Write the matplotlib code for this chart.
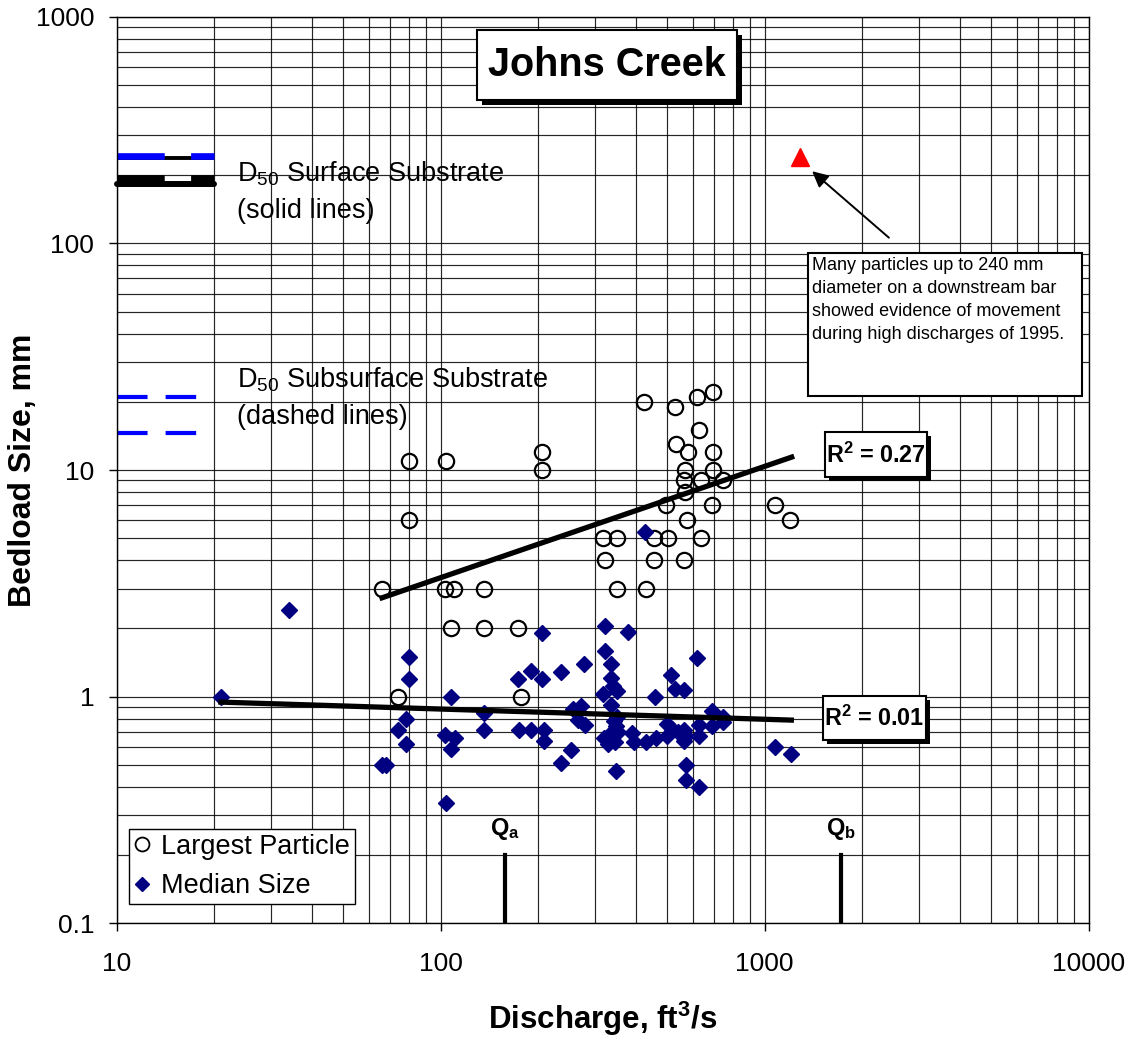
import matplotlib
matplotlib.use("Agg")
import matplotlib.pyplot as plt
from matplotlib.patches import Rectangle
from matplotlib.lines import Line2D

plt.rcParams['font.family'] = ['Liberation Sans', 'DejaVu Sans']
plt.rcParams['mathtext.fontset'] = 'custom'
plt.rcParams['mathtext.rm'] = 'Liberation Sans'
plt.rcParams['mathtext.it'] = 'Liberation Sans:italic'
plt.rcParams['mathtext.bf'] = 'Liberation Sans:bold'
plt.rcParams['lines.scale_dashes'] = False

# largest particle (open circles)
large_q = [66, 74, 80, 80, 104, 103, 110, 136, 108, 136, 174, 177, 205, 205,
           317, 350, 322, 350, 430, 426, 457, 505, 457, 497, 530, 533, 582, 568,
           563, 568, 578, 563, 618, 692, 627, 638, 695, 695, 746, 690, 638, 1078, 1199]
large_d = [3, 1, 11, 6, 11, 3, 3, 3, 2, 2, 2, 1, 12, 10,
           5, 5, 4, 3, 3, 20, 5, 5, 4, 7, 19, 13, 12, 10,
           9, 8, 6, 4, 21, 22, 15, 9, 12, 10, 9, 7, 5, 7, 6]

# median size (diamonds)
med_q = [21, 34, 80, 80, 78, 74, 78, 66, 68,
         108, 103, 111, 108, 104, 136, 136,
         174, 175, 190, 190, 205, 205, 209, 209,
         235, 235, 253, 277, 257, 271, 265, 279,
         322, 322, 335, 335, 341, 317, 351, 335, 351, 349,
         320, 335, 345, 335, 349, 379, 389, 395, 343, 352, 330,
         430, 461, 459, 428,
         513, 528, 565, 500, 520, 542, 565, 573, 565, 500,
         573, 573, 627, 618, 630, 630, 690, 690, 742, 742,
         1078, 1210]
med_d = [1.0, 2.4, 1.5, 1.2, 0.8, 0.71, 0.62, 0.5, 0.5,
         1.0, 0.68, 0.66, 0.59, 0.34, 0.85, 0.71,
         1.2, 0.71, 0.71, 1.3, 1.9, 1.2, 0.71, 0.64,
         1.28, 0.51, 0.58, 1.39, 0.88, 0.91, 0.79, 0.75,
         2.05, 1.59, 1.4, 1.21, 1.11, 1.03, 1.06, 0.92, 0.81, 0.74,
         0.66, 0.69, 0.63, 0.65, 0.47, 1.93, 0.69, 0.63, 0.78, 0.70, 0.62,
         0.63, 0.66, 1.0, 5.3,
         1.25, 1.08, 1.07, 0.76, 0.72, 0.70, 0.71, 0.67, 0.64, 0.67,
         0.50, 0.43, 0.40, 1.48, 0.75, 0.67, 0.86, 0.74, 0.81, 0.77,
         0.60, 0.56]

# power trend lines
large_fit_q = [66, 1213]
large_fit_d = [2.73, 11.4]
med_fit_q = [21, 1210]
med_fit_d = [0.946, 0.788]

# D50 reference lines (short segments at left)
d50_q = [10, 20]
surf_solid_thin = 238
surf_solid_thick = 183
surf_dashed = 195
surf_blue = 242
subsurf_blue = [21.1, 14.5]

# bar particle observation
bar_q = [1284]
bar_d = [240]

# Qa / Qb discharges
qa = 158
qb = 1720
q_mark_d = [0.1, 0.2]

x_ticks = [10, 100, 1000, 10000]
x_labels = ['10', '100', '1000', '10000']
y_ticks = [0.1, 1, 10, 100, 1000]
y_labels = ['0.1', '1', '10', '100', '1000']

W, H = 1132, 1037
fig = plt.figure(figsize=(W / 100, H / 100), dpi=100)
ax = fig.add_axes([116.5 / W, 1 - 923.3 / H, 972 / W, 906.6 / H])
ax.set_xscale('log')
ax.set_yscale('log')
ax.set_xlim(10, 10000)
ax.set_ylim(0.1, 1000)

ax.grid(True, which='both', color='black', lw=0.85, alpha=0.85)
ax.set_axisbelow(True)
for s in ax.spines.values():
    s.set_color('black')
    s.set_linewidth(1)

ax.set_xticks(x_ticks)
ax.set_xticklabels(x_labels)
ax.set_yticks(y_ticks)
ax.set_yticklabels(y_labels)
ax.tick_params(which='major', direction='out', length=6, width=1, labelsize=19)
ax.tick_params(axis='x', pad=15)
ax.tick_params(axis='y', pad=10)
ax.tick_params(which='minor', length=0)

# D50 lines
ax.plot(d50_q, [surf_solid_thin] * 2, color='black', lw=2.8, solid_capstyle='butt', clip_on=False)
ax.plot(d50_q, [surf_blue] * 2, color='#0000FF', lw=4.8, dashes=(34, 19), clip_on=False)
ax.plot(d50_q, [surf_dashed] * 2, color='black', lw=4.8, dashes=(34, 19), clip_on=False)
ax.plot(d50_q, [surf_solid_thick] * 2, color='black', lw=4.3, solid_capstyle='round', clip_on=False)
for v in subsurf_blue:
    ax.plot(d50_q, [v, v], color='#0000FF', lw=3, dashes=(22, 13), clip_on=False)

ax.text(23.5, 187, 'D$_{\\mathrm{50}}$ Surface Substrate', fontsize=19.5, va='baseline')
ax.text(23.5, 130, '(solid lines)', fontsize=19.5, va='baseline')
ax.text(23.5, 23.2, 'D$_{\\mathrm{50}}$ Subsurface Substrate', fontsize=19.5, va='baseline')
ax.text(23.5, 15.9, '(dashed lines)', fontsize=19.5, va='baseline')

# data
ax.plot(large_q, large_d, 'o', ls='none', mfc='none', mec='black', ms=11, mew=1.6, zorder=3)
ax.plot(med_q, med_d, 'D', ls='none', color='#000080', ms=8.5, zorder=4)
ax.plot(large_fit_q, large_fit_d, color='black', lw=3.8, zorder=5)
ax.plot(med_fit_q, med_fit_d, color='black', lw=3.8, zorder=5)
ax.plot(bar_q, bar_d, '^', ls='none', color='#FF0000', ms=13, zorder=5)

# Qa, Qb
ax.plot([qa, qa], q_mark_d, color='black', lw=3)
ax.plot([qb, qb], q_mark_d, color='black', lw=3)
ax.text(qa, 0.246, 'Q$_{\\mathbf{a}}$', fontsize=17, fontweight='bold', ha='center', va='baseline')
ax.text(qb, 0.246, 'Q$_{\\mathbf{b}}$', fontsize=17, fontweight='bold', ha='center', va='baseline')

ax.set_xlabel('Discharge, ft$^{\\mathbf{3}}$/s', fontsize=22.5, fontweight='bold', va='center')
ax.xaxis.set_label_coords(0.5, -0.1056)
ax.set_ylabel('Bedload Size, mm', fontsize=23, fontweight='bold', va='center')
ax.yaxis.set_label_coords(-0.0967, 0.5)


def fbox(x0, y0, x1, y1, shadow=0, lw=1.5):
    if shadow:
        fig.add_artist(Rectangle(((x0 + shadow) / W, 1 - (y1 + shadow) / H),
                                 (x1 - x0) / W, (y1 - y0) / H,
                                 transform=fig.transFigure, facecolor='black',
                                 edgecolor='black', lw=0))
    fig.add_artist(Rectangle((x0 / W, 1 - y1 / H), (x1 - x0) / W, (y1 - y0) / H,
                             transform=fig.transFigure, facecolor='white',
                             edgecolor='black', lw=lw))


# title box
fbox(477, 30, 737, 100, shadow=5)
fig.text(607 / W, 1 - 65 / H, 'Johns Creek', fontsize=28.5, fontweight='bold',
         ha='center', va='center')

# R2 boxes
fbox(825, 432, 927, 477, shadow=4)
fig.text(876 / W, 1 - 455 / H, 'R$^{\\mathbf{2}}$ = 0.27', fontsize=16.8, fontweight='bold',
         ha='center', va='center')
fbox(823, 696, 926, 740, shadow=4)
fig.text(874.5 / W, 1 - 718 / H, 'R$^{\\mathbf{2}}$ = 0.01', fontsize=16.8, fontweight='bold',
         ha='center', va='center')

# note box
fbox(808, 253, 1082, 396)
fig.text(812 / W, 1 - 257 / H,
         'Many particles up to 240 mm\ndiameter on a downstream bar\n'
         'showed evidence of movement\nduring high discharges of 1995.',
         fontsize=13, ha='left', va='top', linespacing=1.46)
ax.annotate('', xy=(1382, 212), xytext=(2457, 104),
            arrowprops=dict(arrowstyle='-|>', color='black', lw=1.4, mutation_scale=24))

# legend
handles = [Line2D([], [], marker='o', ls='none', mfc='none', mec='black', ms=10, mew=1.3),
           Line2D([], [], marker='D', ls='none', color='#000080', ms=7.5)]
leg = ax.legend(handles, ['Largest Particle', 'Median Size'], loc='lower left',
                bbox_to_anchor=(129 / W, 1 - 904 / H), bbox_transform=fig.transFigure,
                fancybox=False, edgecolor='black', framealpha=1, fontsize=19.5,
                handlelength=0.6, handletextpad=0.4, borderpad=0.18,
                labelspacing=0.5, borderaxespad=0)
leg.get_frame().set_linewidth(1)

fig.savefig('out.png', dpi=100)
